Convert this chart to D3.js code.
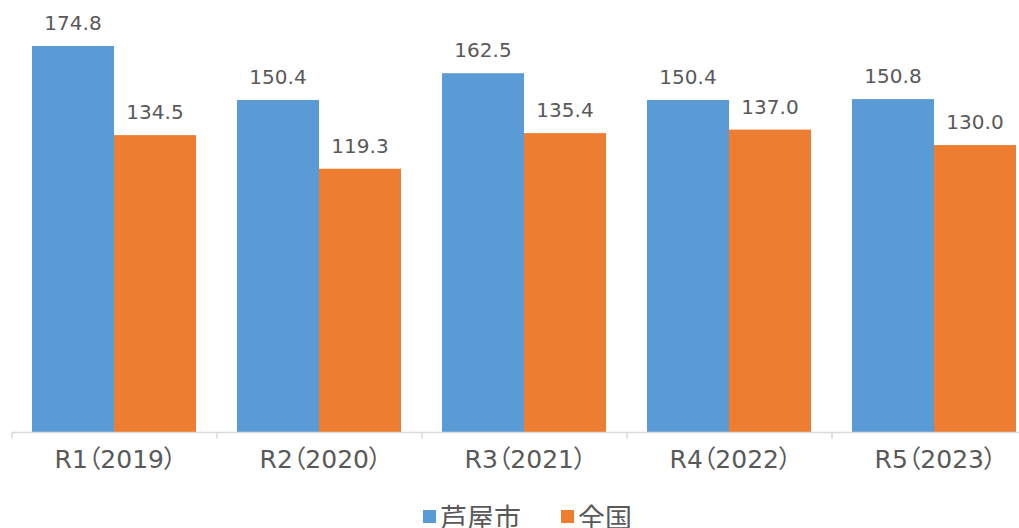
<!DOCTYPE html>
<html>
<head>
<meta charset="utf-8">
<script src="https://cdn.jsdelivr.net/npm/d3@7"></script>
<style>
  body{ margin:0; background:#fff; }
  text{ fill:#595959; }
  .val{ font-family:"DejaVu Sans", sans-serif; font-size:20px; }
  .cat{ font-family:"DejaVu Sans", "Noto Sans CJK JP", sans-serif; font-size:25px; font-feature-settings:"palt"; }
  .leg{ font-family:"Noto Sans CJK JP", sans-serif; font-size:27px; }
</style>
</head>
<body>
<svg id="chart" width="1019" height="528"></svg>
<script>
var categories = ["R1（2019）", "R2（2020）", "R3（2021）", "R4（2022）", "R5（2023）"];
var seriesNames = ["芦屋市", "全国"];
var ashiya = [174.8, 150.4, 162.5, 150.4, 150.8];
var national = [134.5, 119.3, 135.4, 137.0, 130.0];
var colors = ["#5B9BD5", "#ED7D31"];

var svg = d3.select("#chart");
var base = 432.5;

var x = d3.scaleBand()
    .domain(categories)
    .range([12, 1037])
    .paddingInner(0)
    .paddingOuter(0);

var xs = d3.scaleBand()
    .domain([0, 1])
    .range([20, 184]);

var y = d3.scaleLinear()
    .domain([0, 200])
    .range([base, base - 2.211 * 200]);

var rows = categories.map(function(c, i){
    return { cat: c, vals: [ashiya[i], national[i]] };
});

var groups = svg.selectAll("g.grp")
    .data(rows)
    .enter()
    .append("g")
        .attr("class", "grp")
        .attr("transform", function(d){ return "translate(" + x(d.cat) + ",0)"; });

groups.selectAll("rect")
    .data(function(d){ return d.vals; })
    .enter()
    .append("rect")
        .attr("x", function(d, i){ return xs(i); })
        .attr("width", xs.bandwidth())
        .attr("y", function(d){ return y(d); })
        .attr("height", function(d){ return base - y(d); })
        .attr("fill", function(d, i){ return colors[i]; });

groups.selectAll("text.val")
    .data(function(d){ return d.vals; })
    .enter()
    .append("text")
        .attr("class", "val")
        .attr("text-anchor", "middle")
        .attr("x", function(d, i){ return xs(i) + xs.bandwidth() / 2; })
        .attr("y", function(d){ return y(d) - 16; })
        .text(function(d){ return d.toFixed(1); });

// category axis
var axis = svg.append("g");
axis.append("line")
    .attr("x1", 12).attr("x2", 1019)
    .attr("y1", base).attr("y2", base)
    .attr("stroke", "#d9d9d9").attr("stroke-width", 1.5);

axis.selectAll("line.tick")
    .data(categories)
    .enter()
    .append("line")
        .attr("x1", function(d){ return x(d); })
        .attr("x2", function(d){ return x(d); })
        .attr("y1", base).attr("y2", base + 6)
        .attr("stroke", "#d9d9d9").attr("stroke-width", 1.5);

axis.selectAll("text")
    .data(categories)
    .enter()
    .append("text")
        .attr("class", "cat")
        .attr("text-anchor", "middle")
        .attr("x", function(d){ return x(d) + x.bandwidth() / 2 + 1; })
        .attr("y", 468)
        .text(function(d){ return d; });

// legend
var legX = [423, 561];
var leg = svg.selectAll("g.leg")
    .data(seriesNames)
    .enter()
    .append("g")
        .attr("transform", function(d, i){ return "translate(" + legX[i] + ",510)"; });

leg.append("rect")
    .attr("width", 13).attr("height", 13)
    .attr("fill", function(d, i){ return colors[i]; });

leg.append("text")
    .attr("class", "leg")
    .attr("x", 17)
    .attr("y", 18)
    .text(function(d){ return d; });
</script>
</body>
</html>
